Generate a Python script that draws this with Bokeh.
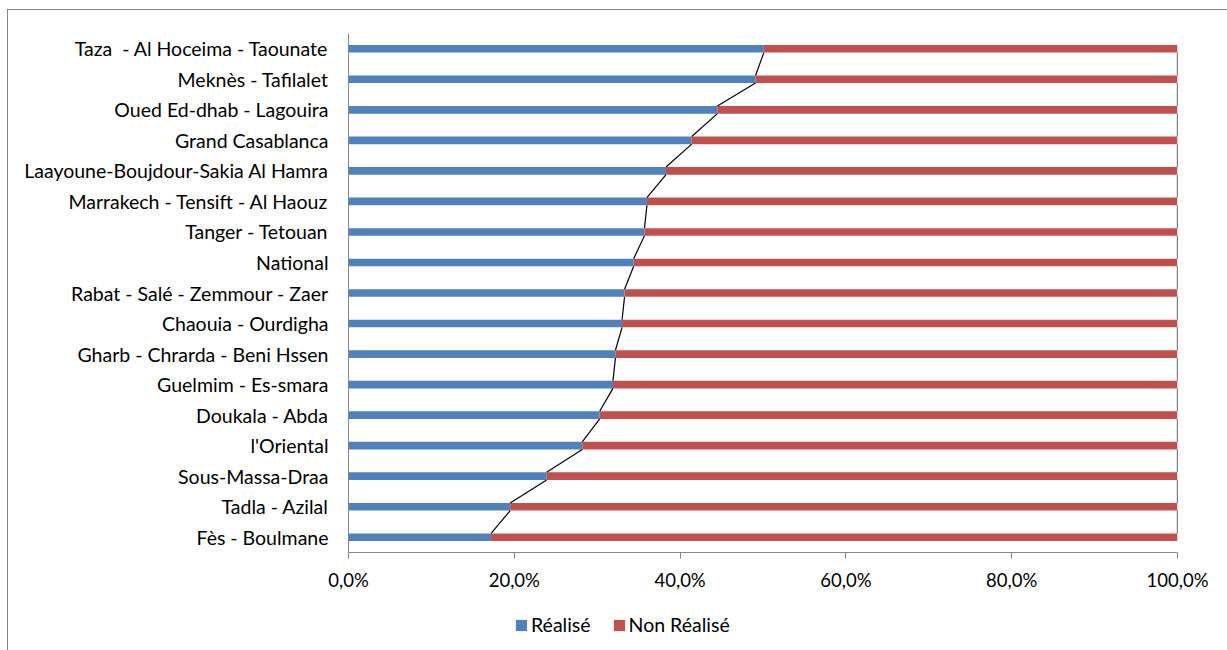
from bokeh.plotting import figure
from bokeh.layouts import column
from bokeh.models import FactorRange, Range1d, FixedTicker, Legend, LegendItem, ColumnDataSource
from bokeh.embed import file_html
from bokeh.resources import INLINE

# Data (top-to-bottom as shown in the chart)
regions = [
    "Taza \u00a0- Al Hoceima - Taounate",
    "Meknès - Tafilalet",
    "Oued Ed-dhab - Lagouira",
    "Grand Casablanca",
    "Laayoune-Boujdour-Sakia Al Hamra",
    "Marrakech - Tensift - Al Haouz",
    "Tanger - Tetouan",
    "National",
    "Rabat - Salé - Zemmour - Zaer",
    "Chaouia - Ourdigha",
    "Gharb - Chrarda - Beni Hssen",
    "Guelmim - Es-smara",
    "Doukala - Abda",
    "l'Oriental",
    "Sous-Massa-Draa",
    "Tadla - Azilal",
    "Fès - Boulmane",
]
realise = [50.1, 49.1, 44.5, 41.4, 38.3, 36.0, 35.7, 34.4, 33.3, 33.0, 32.2, 31.9, 30.3, 28.2, 23.9, 19.5, 17.2]
non_realise = [49.9, 50.9, 55.5, 58.6, 61.7, 64.0, 64.3, 65.6, 66.7, 67.0, 67.8, 68.1, 69.7, 71.8, 76.1, 80.5, 82.8]
series_names = ["Réalisé", "Non Réalisé"]
x_ticks = [0, 20, 40, 60, 80, 100]
x_tick_labels = ["0,0%", "20,0%", "40,0%", "60,0%", "80,0%", "100,0%"]

BLUE = "#4F81BD"
RED = "#C0504D"
AXIS = "#868686"
FONT = "Lato"
FSIZE = "19.5px"
BAR_H = 0.25

# bottom-to-top order for the factor range
cats = regions[::-1]
r_vals = realise[::-1]
n_vals = non_realise[::-1]

p = figure(
    width=1227, height=600,
    y_range=FactorRange(factors=cats, range_padding=0),
    x_range=Range1d(0, 100),
    output_backend="svg", toolbar_location=None,
    min_border_left=348, min_border_right=50, min_border_top=33, min_border_bottom=48,
)
p.border_fill_color = None
p.background_fill_color = None
p.outline_line_color = None
p.grid.visible = False

src = ColumnDataSource(dict(
    y=cats,
    r_left=[0] * len(cats),
    r_right=r_vals,
    n_left=r_vals,
    n_right=[a + b for a, b in zip(r_vals, n_vals)],
))
p.hbar(y="y", left="r_left", right="r_right", height=BAR_H, source=src,
       fill_color=BLUE, line_color=None)
p.hbar(y="y", left="n_left", right="n_right", height=BAR_H, source=src,
       fill_color=RED, line_color=None)

# series lines (connecting bar ends between consecutive bars)
x0, y0, x1, y1 = [], [], [], []
tot = [a + b for a, b in zip(r_vals, n_vals)]
for i in range(len(cats) - 1):
    x0.append(r_vals[i]); y0.append((cats[i], BAR_H / 2))
    x1.append(r_vals[i + 1]); y1.append((cats[i + 1], -BAR_H / 2))
    x0.append(tot[i]); y0.append((cats[i], BAR_H / 2))
    x1.append(tot[i + 1]); y1.append((cats[i + 1], -BAR_H / 2))
p.segment(x0=x0, y0=y0, x1=x1, y1=y1, line_color="black", line_width=1.2)

# axes
xa = p.xaxis[0]
xa.ticker = FixedTicker(ticks=x_ticks)
xa.major_label_overrides = dict(zip(x_ticks, x_tick_labels))
xa.axis_line_color = AXIS
xa.major_tick_line_color = AXIS
xa.major_tick_out = 6
xa.major_tick_in = 0
xa.minor_tick_line_color = None
xa.major_label_text_font = FONT
xa.major_label_text_font_size = "18.5px"
xa.major_label_text_color = "black"
xa.major_label_standoff = 10

ya = p.yaxis[0]
ya.axis_line_color = AXIS
ya.major_tick_line_color = None
ya.major_tick_out = 0
ya.major_tick_in = 0
ya.minor_tick_line_color = None
ya.major_label_text_font = FONT
ya.major_label_text_font_size = FSIZE
ya.major_label_text_color = "black"
ya.major_label_standoff = 20

# legend strip below the chart (key swatches kept outside its visible range)
leg = figure(
    width=1227, height=50, x_range=Range1d(0, 1), y_range=Range1d(0, 1),
    output_backend="svg", toolbar_location=None,
    x_axis_location=None, y_axis_location=None, min_border=0,
)
leg.border_fill_color = None
leg.background_fill_color = None
leg.outline_line_color = None
leg.grid.visible = False
lr = leg.quad(left=[0], right=[0.1], bottom=[-5], top=[-4.9], fill_color=BLUE, line_color=None)
ln = leg.quad(left=[0], right=[0.1], bottom=[-5], top=[-4.9], fill_color=RED, line_color=None)

legend = Legend(
    items=[LegendItem(label=series_names[0], renderers=[lr]),
           LegendItem(label=series_names[1], renderers=[ln])],
    orientation="horizontal", location=(166, 14),
    glyph_width=14, glyph_height=14, label_standoff=3, spacing=21,
    label_text_font=FONT, label_text_font_size=FSIZE, label_text_color="black",
    border_line_color=None, background_fill_color=None, background_fill_alpha=0,
    padding=4, margin=0,
)
leg.add_layout(legend)

layout = column(p, leg, spacing=0,
                styles={"box-shadow": "inset 7px 9px 0 0 white, inset 8px 10px 0 0 #868686"})

open("out.html", "w").write(file_html(layout, INLINE))
